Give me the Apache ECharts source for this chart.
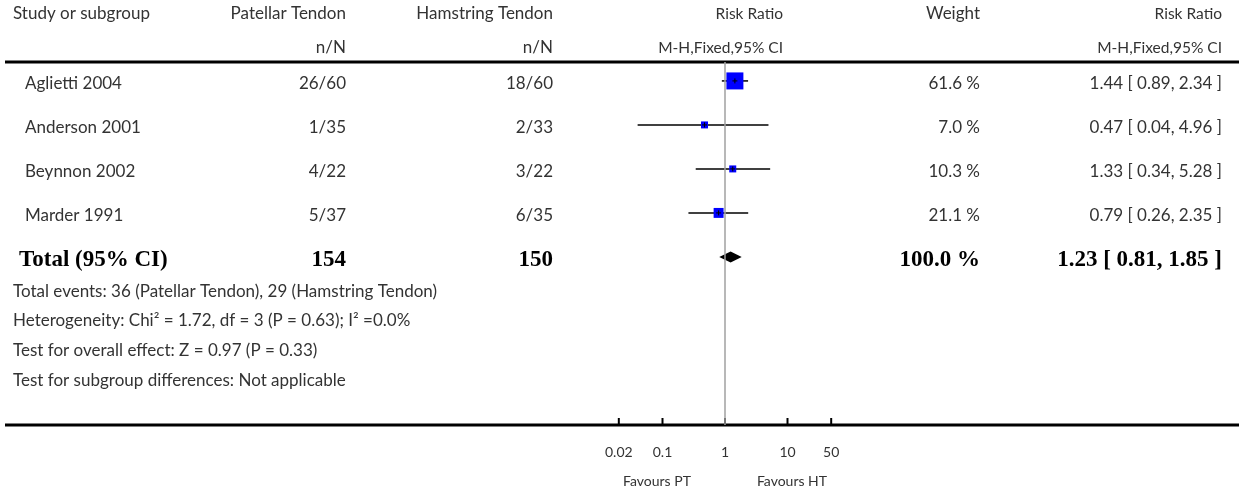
<!DOCTYPE html>
<html><head><meta charset="utf-8">
<script src="https://cdn.jsdelivr.net/npm/echarts@6/dist/echarts.min.js"></script>
<style>html,body{margin:0;padding:0;background:#fff}#c{width:1239px;height:495px}</style>
</head><body><div id="c"></div>
<script>
const studies = ['Aglietti 2004','Anderson 2001','Beynnon 2002','Marder 1991'];
const ptEvents = [26, 1, 4, 5];
const ptTotal = [60, 35, 22, 37];
const htEvents = [18, 2, 3, 6];
const htTotal = [60, 33, 22, 35];
const weights = [61.6, 7.0, 10.3, 21.1];
const rr = [1.44, 0.47, 1.33, 0.79];
const rrLo = [0.89, 0.04, 0.34, 0.26];
const rrHi = [2.34, 4.96, 5.28, 2.35];
const totalLabel = 'Total (95% CI)';
const totalPT = 154, totalHT = 150, totalWeight = 100.0;
const totalRR = 1.23, totalLo = 0.81, totalHi = 1.85;
const ticks = [0.02, 0.1, 1, 10, 50];
const tickLabels = ['0.02', '0.1', '1', '10', '50'];
const footer = [
  'Total events: 36 (Patellar Tendon), 29 (Hamstring Tendon)',
  'Heterogeneity: Chi\u00b2 = 1.72, df = 3 (P = 0.63); I\u00b2 =0.0%',
  'Test for overall effect: Z = 0.97 (P = 0.33)',
  'Test for subgroup differences: Not applicable'
];

const FONT = '17px Lato';
const FONT_SM = '15.5px Lato';
const TXT = '#333';
const COL = {name: 25, pt: 346, ht: 553, w: 980, rr: 1222};
const fmt2 = v => v.toFixed(2);
const rrText = (m, l, h) => fmt2(m) + ' [ ' + fmt2(l) + ', ' + fmt2(h) + ' ]';

const chart = echarts.init(document.getElementById('c'));
const studyData = studies.map((s, i) => [rr[i], rrLo[i], rrHi[i], i, weights[i]]);
const tickData = ticks.map((t, i) => [t, i]);

function txt(x, y, text, align, font, fill) {
  return {type: 'text', x: x, y: y, style: {text: text, textAlign: align, textVerticalAlign: 'middle', font: font || FONT, fill: fill || TXT}};
}

const graphics = [
  {type: 'line', shape: {x1: 5, y1: 62, x2: 1239, y2: 62}, style: {stroke: '#000', lineWidth: 3}},
  {type: 'line', shape: {x1: 5, y1: 425, x2: 1239, y2: 425}, style: {stroke: '#000', lineWidth: 3}},
  txt(13, 14, 'Study or subgroup', 'left'),
  txt(COL.pt, 14, 'Patellar Tendon', 'right'),
  txt(COL.pt, 48, 'n/N', 'right'),
  txt(COL.ht, 14, 'Hamstring Tendon', 'right'),
  txt(COL.ht, 48, 'n/N', 'right'),
  txt(783, 14, 'Risk Ratio', 'right', FONT_SM),
  txt(783, 48, 'M-H,Fixed,95% CI', 'right', FONT_SM),
  txt(COL.w, 14, 'Weight', 'right'),
  txt(COL.rr, 14, 'Risk Ratio', 'right', FONT_SM),
  txt(COL.rr, 48, 'M-H,Fixed,95% CI', 'right', FONT_SM)
];
const footY = [292, 321, 351, 381];
footer.forEach((f, i) => graphics.push(txt(13, footY[i], f, 'left')));
graphics.push(txt(657, 481, 'Favours PT', 'center', '14px Lato'));
graphics.push(txt(792, 481, 'Favours HT', 'center', '14px Lato'));

const option = {
  animation: false,
  grid: {left: 600, width: 250, top: 62, height: 363},
  xAxis: {type: 'log', logBase: 10, min: 0.01, max: 100, show: false},
  yAxis: {type: 'value', inverse: true, min: -0.43, max: 7.82, show: false},
  graphic: graphics,
  series: [
    {
      type: 'custom', clip: false, z: 3,
      data: studyData,
      renderItem: function (params, api) {
        const y = api.coord([1, api.value(3)])[1];
        const xm = api.coord([api.value(0), 0])[0];
        const xl = api.coord([api.value(1), 0])[0];
        const xh = api.coord([api.value(2), 0])[0];
        const s = Math.max(7, 17 * Math.sqrt(api.value(4) / 61.6));
        return {type: 'group', children: [
          {type: 'line', shape: {x1: xl, y1: y, x2: xh, y2: y}, style: {stroke: '#000', lineWidth: 1.5}},
          {type: 'rect', shape: {x: xm - s / 2, y: y - s / 2, width: s, height: s}, style: {fill: '#0000ff'}},
          {type: 'line', shape: {x1: xm, y1: y - 2.5, x2: xm, y2: y + 2.5}, style: {stroke: '#000', lineWidth: 1}},
          {type: 'line', shape: {x1: xm - 2.5, y1: y, x2: xm + 2.5, y2: y}, style: {stroke: '#000', lineWidth: 1}}
        ]};
      },
      markLine: {
        silent: true, symbol: 'none', label: {show: false},
        lineStyle: {color: '#a0a0a0', width: 1.5, type: 'solid'},
        data: [{xAxis: 1}]
      }
    },
    {
      type: 'custom', clip: false, z: 3,
      data: [[totalRR, totalLo, totalHi, studies.length]],
      renderItem: function (params, api) {
        const y = api.coord([1, api.value(3)])[1];
        const xm = api.coord([api.value(0), 0])[0];
        const xl = api.coord([api.value(1), 0])[0];
        const xh = api.coord([api.value(2), 0])[0];
        return {type: 'polygon', shape: {points: [[xl, y], [xm, y - 5.5], [xh, y], [xm, y + 5.5]]}, style: {fill: '#000'}};
      }
    },
    {
      type: 'custom', clip: false, z: 2,
      data: studies.map((s, i) => [1, i]),
      renderItem: function (params, api) {
        const i = params.dataIndex;
        const y = api.coord([1, api.value(1)])[1] + 3;
        return {type: 'group', children: [
          txt(COL.name, y, studies[i], 'left'),
          txt(COL.pt, y, ptEvents[i] + '/' + ptTotal[i], 'right'),
          txt(COL.ht, y, htEvents[i] + '/' + htTotal[i], 'right'),
          txt(COL.w, y, weights[i].toFixed(1) + ' %', 'right'),
          txt(COL.rr, y, rrText(rr[i], rrLo[i], rrHi[i]), 'right')
        ]};
      }
    },
    {
      type: 'custom', clip: false, z: 2,
      data: [[1, studies.length]],
      renderItem: function (params, api) {
        const y = api.coord([1, api.value(1)])[1] + 3;
        const F = 'bold 23px "Liberation Serif"';
        return {type: 'group', children: [
          txt(19, y, totalLabel, 'left', F, '#000'),
          txt(COL.pt, y, String(totalPT), 'right', F, '#000'),
          txt(COL.ht, y, String(totalHT), 'right', F, '#000'),
          txt(COL.w, y, totalWeight.toFixed(1) + ' %', 'right', F, '#000'),
          txt(COL.rr, y, rrText(totalRR, totalLo, totalHi), 'right', F, '#000')
        ]};
      }
    },
    {
      type: 'custom', clip: false, z: 4,
      data: tickData,
      renderItem: function (params, api) {
        const p = api.coord([api.value(0), 7.82]);
        return {type: 'group', children: [
          {type: 'line', shape: {x1: p[0], y1: p[1] - 7, x2: p[0], y2: p[1]}, style: {stroke: '#000', lineWidth: 2}},
          txt(p[0], 452, tickLabels[params.dataIndex], 'center', '14px Lato')
        ]};
      }
    }
  ]
};
chart.setOption(option);
</script></body></html>
